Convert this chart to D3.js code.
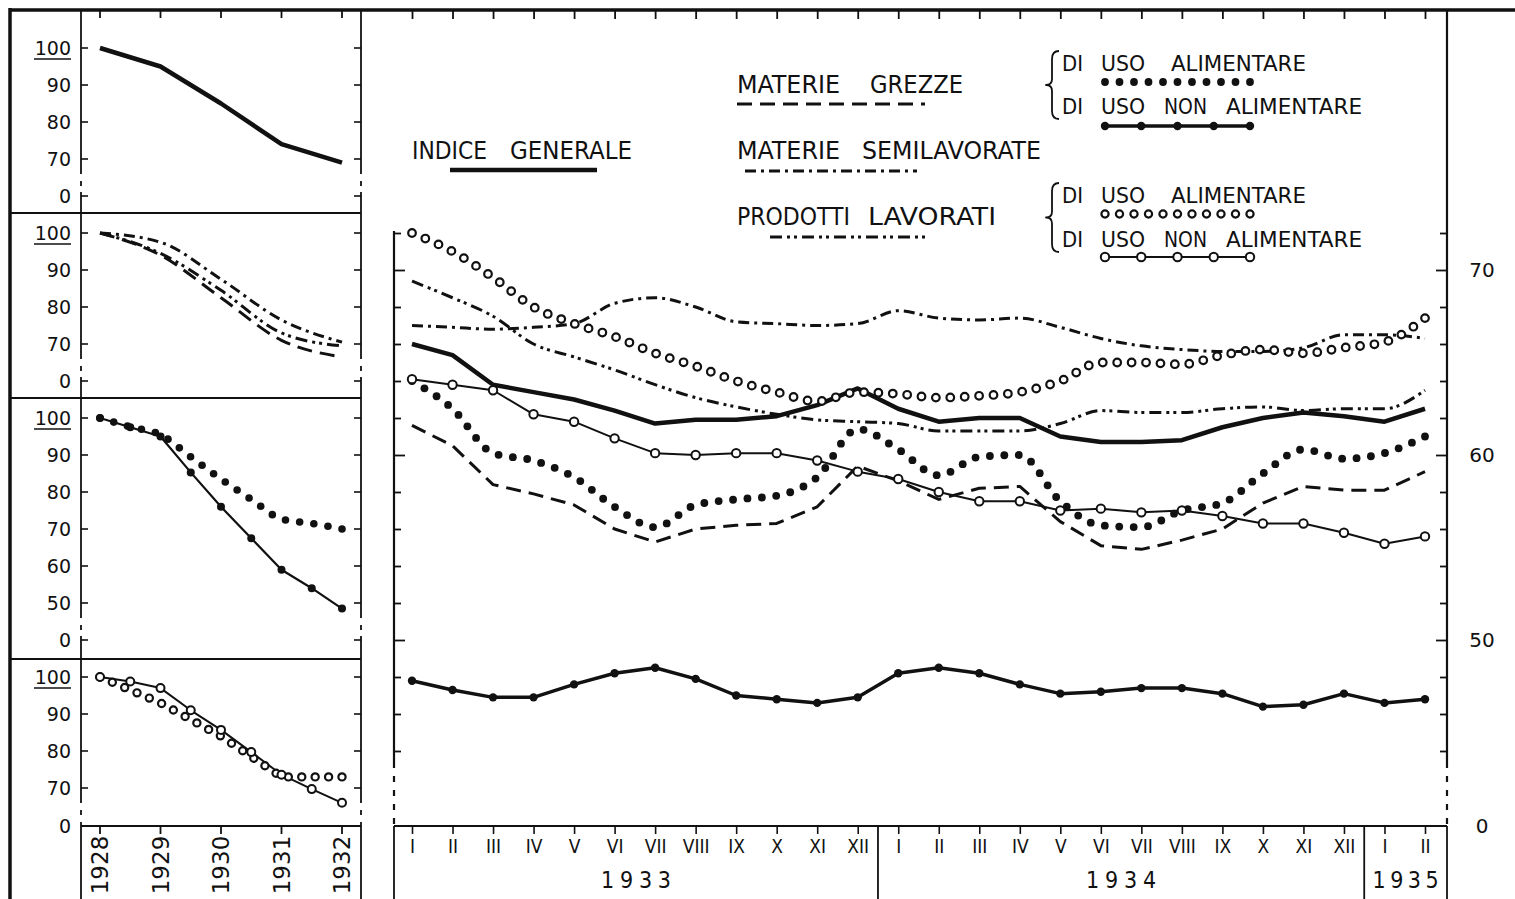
<!DOCTYPE html>
<html>
<head>
<meta charset="utf-8">
<script src="https://cdn.jsdelivr.net/npm/d3@7"></script>
<style>
  body { margin: 0; background: #fff; }
  svg { display: block; }
  text { fill: #111; }
  .num { font-family: "DejaVu Sans", sans-serif; font-size: 19px; }
  .cond { font-family: "DejaVu Sans Condensed", "Liberation Sans Narrow", sans-serif; }
</style>
</head>
<body>
<svg width="1515" height="899"></svg>
<script>
// ---------- data: main chart, monthly 1933 - II 1935 ----------
var monthLabels = ["I","II","III","IV","V","VI","VII","VIII","IX","X","XI","XII",
                   "I","II","III","IV","V","VI","VII","VIII","IX","X","XI","XII",
                   "I","II"];
var yearNames = ["1933", "1934", "1935"];
var yearMonths = [12, 12, 2];

var indiceGenerale  = [66.0, 65.4, 63.8, 63.4, 63.0, 62.4, 61.7, 61.9, 61.9, 62.1, 62.7, 63.6,
                       62.5, 61.8, 62.0, 62.0, 61.0, 60.7, 60.7, 60.8, 61.5, 62.0, 62.3, 62.1, 61.8, 62.5];
var grezzeAlim      = [64.0, 62.5, 60.1, 59.7, 58.8, 57.2, 56.1, 57.3, 57.6, 57.8, 58.8, 61.4,
                       60.3, 58.9, 59.9, 60.0, 57.5, 56.2, 56.1, 57.0, 57.4, 59.0, 60.3, 59.8, 60.1, 61.0];
var grezzeNonAlim   = [47.8, 47.3, 46.9, 46.9, 47.6, 48.2, 48.5, 47.9, 47.0, 46.8, 46.6, 46.9,
                       48.2, 48.5, 48.2, 47.6, 47.1, 47.2, 47.4, 47.4, 47.1, 46.4, 46.5, 47.1, 46.6, 46.8];
var grezze          = [61.6, 60.5, 58.4, 57.9, 57.3, 56.0, 55.3, 56.0, 56.2, 56.3, 57.2, 59.4,
                       58.6, 57.6, 58.2, 58.3, 56.4, 55.1, 54.9, 55.4, 56.0, 57.4, 58.3, 58.1, 58.1, 59.1];
var semilavorate    = [67.0, 66.9, 66.8, 66.9, 67.1, 68.2, 68.5, 68.0, 67.2, 67.1, 67.0, 67.1,
                       67.8, 67.4, 67.3, 67.4, 66.9, 66.3, 65.9, 65.7, 65.6, 65.6, 65.8, 66.5, 66.5, 66.3];
var lavorati        = [69.4, 68.5, 67.5, 66.0, 65.3, 64.6, 63.8, 63.1, 62.6, 62.2, 61.9, 61.8,
                       61.7, 61.3, 61.3, 61.3, 61.7, 62.4, 62.3, 62.3, 62.5, 62.6, 62.4, 62.5, 62.5, 63.5];
var lavoratiAlim    = [72.0, 71.0, 69.6, 68.0, 67.1, 66.4, 65.5, 64.8, 64.0, 63.4, 62.9, 63.4,
                       63.3, 63.1, 63.2, 63.4, 64.0, 65.0, 65.0, 64.9, 65.4, 65.7, 65.5, 65.8, 66.1, 67.4];
var lavoratiNonAlim = [64.1, 63.8, 63.5, 62.2, 61.8, 60.9, 60.1, 60.0, 60.1, 60.1, 59.7, 59.1,
                       58.7, 58.0, 57.5, 57.5, 57.0, 57.1, 56.9, 57.0, 56.7, 56.3, 56.3, 55.8, 55.2, 55.6];
var rightTicks = [70, 60, 50];

// ---------- data: left panels, 1928 = 100 ----------
var leftYears = [1928, 1929, 1930, 1931, 1932];
var leftHalfYears = [1928, 1928.5, 1929, 1929.5, 1930, 1930.5, 1931, 1931.5, 1932];
var p1Indice      = [100, 95, 85, 74, 69];
var p2Semilav     = [100, 97.5, 87.5, 76.5, 70.5];
var p2Lavorati    = [100, 94.5, 84.5, 73, 69.5];
var p2Grezze      = [100, 94, 82.5, 71, 66.5];
var p3GrezzeAlim  = [100, 97.6, 95.5, 89.5, 83.5, 78, 72.7, 71.5, 70];
var p3GrezzeNon   = [100, 97.5, 95, 85.3, 76, 67.5, 59, 54, 48.5];
var p4LavAlim     = [100, 93, 84, 73, 73];
var p4LavNon      = [100, 98.8, 97, 91, 85.7, 79.7, 73.6, 69.7, 66];

var ink = "#111";
var svg = d3.select("svg");

function seg(x1, y1, x2, y2, w, dash) {
  return svg.append("line")
    .attr("x1", x1).attr("y1", y1).attr("x2", x2).attr("y2", y2)
    .attr("stroke", ink).attr("stroke-width", w || 1.6)
    .attr("stroke-dasharray", dash || null);
}

// dots spread evenly along a path (dotted line styles)
function dotted(g, d, step, r, open) {
  var p = g.append("path").attr("d", d).attr("fill", "none");
  var L = p.node().getTotalLength();
  var n = Math.max(1, Math.round(L / step));
  var pts = d3.range(n + 1).map(function(k) { return p.node().getPointAtLength(L * k / n); });
  p.remove();
  g.selectAll(null).data(pts).enter().append("circle")
    .attr("cx", function(d) { return d.x; })
    .attr("cy", function(d) { return d.y; })
    .attr("r", r)
    .attr("fill", open ? "#fff" : ink)
    .attr("stroke", open ? ink : "none")
    .attr("stroke-width", open ? 2.2 : 0);
}

function stroked(g, d, w, dash) {
  g.append("path").attr("d", d).attr("fill", "none")
    .attr("stroke", ink).attr("stroke-width", w)
    .attr("stroke-linejoin", "round")
    .attr("stroke-dasharray", dash || null);
}

function markers(g, pts, r, open) {
  g.selectAll(null).data(pts).enter().append("circle")
    .attr("cx", function(d) { return d[0]; })
    .attr("cy", function(d) { return d[1]; })
    .attr("r", r)
    .attr("fill", open ? "#fff" : ink)
    .attr("stroke", ink).attr("stroke-width", open ? 2 : 0);
}

var DASH = "15,8", DASHDOT = "11,5,3,5", DASHDOTDOT = "12,5,3,4,3,5";

// ---------- frame ----------
seg(10, 10, 1515, 10, 3.5);
seg(10, 8, 10, 899, 3.5);

// ---------- left panels ----------
var lx = d3.scaleLinear().domain([1928, 1932]).range([100, 342]);
var panels = [
  {top: 10,  bottom: 213, y100: 48,  low: 70, zeroY: 196},
  {top: 213, bottom: 398, y100: 233, low: 70, zeroY: 381},
  {top: 398, bottom: 659, y100: 418, low: 50, zeroY: 640},
  {top: 659, bottom: 826, y100: 677, low: 70, zeroY: 826}
];
panels.forEach(function(p) {
  p.y = d3.scaleLinear().domain([p.low, 100]).range([p.y100 + (100 - p.low) * 3.7, p.y100]);
  var yl = p.y(p.low);
  [81, 361].forEach(function(ax) {
    seg(ax, p.top, ax, yl + 10, 1.8);
    seg(ax, yl + 10, ax, p.zeroY - 4, 1.8, "5,7");
    if (p.zeroY - 4 < p.bottom) seg(ax, p.zeroY - 4, ax, p.bottom, 1.8);
  });
  var vals = d3.range(p.low, 101, 10);
  var ag = svg.append("g");
  vals.forEach(function(v) {
    seg(81, p.y(v), 88, p.y(v), 1.6);
    seg(361, p.y(v), 354, p.y(v), 1.6);
    ag.append("text").attr("class", "num").attr("x", 71).attr("y", p.y(v) + 7)
      .attr("text-anchor", "end").text(v);
  });
  seg(81, p.zeroY, 88, p.zeroY, 1.6);
  seg(361, p.zeroY, 354, p.zeroY, 1.6);
  ag.append("text").attr("class", "num").attr("x", 71).attr("y", p.zeroY + 7)
    .attr("text-anchor", "end").text("0");
  seg(34, p.y(100) + 11, 71, p.y(100) + 11, 1.6);
});
[213, 398, 659].forEach(function(yy) { seg(10, yy, 361, yy, 1.8); });
seg(81, 826, 361, 826, 2);
seg(81, 826, 81, 899, 1.8);
seg(361, 826, 361, 899, 1.8);
leftYears.forEach(function(yr) {
  seg(lx(yr), 10, lx(yr), 18, 1.8);
  seg(lx(yr), 826, lx(yr), 834, 1.8);
  svg.append("text").attr("class", "num").style("font-size", "23px")
    .attr("text-anchor", "middle")
    .attr("transform", "translate(" + (lx(yr) + 8) + ",865) rotate(-90)")
    .text(yr);
});

var P = panels;
var g1 = svg.append("g");
var lineY = function(xs, sc) {
  return d3.line().x(function(d, i) { return lx(xs[i]); }).y(function(d) { return sc(d); });
};
stroked(g1, lineY(leftYears, P[0].y)(p1Indice), 4.5);

var g2 = svg.append("g");
stroked(g2, lineY(leftYears, P[1].y).curve(d3.curveMonotoneX)(p2Semilav), 3, DASHDOT);
stroked(g2, lineY(leftYears, P[1].y).curve(d3.curveMonotoneX)(p2Lavorati), 3, DASHDOTDOT);
stroked(g2, lineY(leftYears, P[1].y).curve(d3.curveMonotoneX)(p2Grezze), 3, DASH);

var g3 = svg.append("g");
stroked(g3, lineY(leftHalfYears, P[2].y)(p3GrezzeNon), 2.2);
dotted(g3, lineY(leftHalfYears, P[2].y).curve(d3.curveMonotoneX)(p3GrezzeAlim), 14.5, 3.8, false);
markers(g3, p3GrezzeNon.map(function(v, i) { return [lx(leftHalfYears[i]), P[2].y(v)]; }), 4, false);

var g4 = svg.append("g");
stroked(g4, lineY(leftHalfYears, P[3].y)(p4LavNon), 2);
dotted(g4, lineY(leftYears, P[3].y)(p4LavAlim), 13.5, 3.6, true);
markers(g4, p4LavNon.map(function(v, i) { return [lx(leftHalfYears[i]), P[3].y(v)]; }), 4, true);

// ---------- main chart ----------
var n = monthLabels.length;
var x = d3.scaleLinear().domain([0, n - 1]).range([412, 1425]);
var y = d3.scaleLinear().domain([44, 72]).range([751, 233]);
var L = 394, R = 1447, B = 826;

// axes lines
seg(L, 231, L, 762, 2.2);
seg(L, 762, L, B, 2.2, "6,8");
seg(R, 10, R, 762, 2.2);
seg(R, 762, R, B, 2.2, "6,8");
seg(L, B, R, B, 2.2);
seg(L, B, L, 899, 1.8);
seg(R, B, R, 899, 1.8);

var leftAx = svg.append("g").attr("transform", "translate(" + L + ",0)")
  .call(d3.axisRight(y).tickValues(d3.range(44, 73, 2)).tickSize(7).tickFormat(""));
var rightAx = svg.append("g").attr("transform", "translate(" + R + ",0)")
  .call(d3.axisLeft(y).tickValues(d3.range(44, 73, 2)).tickSize(7).tickFormat(""));
[leftAx, rightAx].forEach(function(a, k) {
  a.select(".domain").remove();
  a.selectAll(".tick line").attr("stroke", ink).attr("stroke-width", 1.8)
    .attr("x2", function(d) { return (d % 10 === 0 ? 11 : 7) * (k ? -1 : 1); });
});
seg(L, B, L + 7, B, 1.8);
seg(R, B, R - 7, B, 1.8);
rightTicks.forEach(function(v) {
  svg.append("text").attr("class", "num").style("font-size", "20px")
    .attr("x", 1482).attr("y", y(v) + 7).attr("text-anchor", "middle").text(v);
});
svg.append("text").attr("class", "num").style("font-size", "20px")
  .attr("x", 1482).attr("y", B + 7).attr("text-anchor", "middle").text("0");

// top month ticks
var topAx = svg.append("g").attr("transform", "translate(0,10)")
  .call(d3.axisBottom(x).tickValues(d3.range(n)).tickSize(9).tickFormat(""));
topAx.select(".domain").remove();
topAx.selectAll(".tick line").attr("stroke", ink).attr("stroke-width", 1.8);

// bottom month axis
var botAx = svg.append("g").attr("transform", "translate(0," + B + ")")
  .call(d3.axisBottom(x).tickValues(d3.range(n)).tickSize(8).tickPadding(6)
    .tickFormat(function(i) { return monthLabels[i]; }));
botAx.select(".domain").remove();
botAx.selectAll(".tick line").attr("stroke", ink).attr("stroke-width", 1.6);
botAx.selectAll(".tick text").attr("class", "cond").style("font-size", "19px").attr("fill", ink);

// year boxes
var acc = 0;
yearNames.forEach(function(name, k) {
  var i0 = acc, i1 = acc + yearMonths[k] - 1;
  acc += yearMonths[k];
  var xa = i0 === 0 ? L : (x(i0) + x(i0 - 1)) / 2;
  var xb = acc >= n ? R : (x(i1) + x(i1 + 1)) / 2;
  if (acc < n) seg(xb, B, xb, 899, 1.8);
  var wide = yearMonths[k] > 4;
  svg.append("text").attr("class", "cond").style("font-size", "23px")
    .attr("x", (xa + xb) / 2 - (wide ? 35 : 33)).attr("y", 888)
    .attr("textLength", wide ? 70 : 66).attr("lengthAdjust", "spacing")
    .text(name);
});

// series
var gm = svg.append("g");
var lin = d3.line().x(function(d, i) { return x(i); }).y(function(d) { return y(d); });
var smo = d3.line().x(function(d, i) { return x(i); }).y(function(d) { return y(d); }).curve(d3.curveMonotoneX);

stroked(gm, smo(semilavorate), 3, DASHDOT);
stroked(gm, smo(lavorati), 3, DASHDOTDOT);
stroked(gm, lin(grezze), 3, DASH);
stroked(gm, lin(indiceGenerale), 4.5);
stroked(gm, lin(lavoratiNonAlim), 2);
stroked(gm, lin(grezzeNonAlim), 3.5);
dotted(gm, smo(grezzeAlim), 14.5, 3.9, false);
dotted(gm, smo(lavoratiAlim), 14.5, 3.8, true);
markers(gm, lavoratiNonAlim.map(function(v, i) { return [x(i), y(v)]; }), 4.2, true);
markers(gm, grezzeNonAlim.map(function(v, i) { return [x(i), y(v)]; }), 4.2, false);

// ---------- legend ----------
var lg = svg.append("g");
function words(list, yb, size) {
  list.forEach(function(w) {
    lg.append("text").attr("class", "cond").style("font-size", size + "px")
      .attr("x", w[1]).attr("y", yb)
      .attr("textLength", w[2] - w[1]).attr("lengthAdjust", "spacingAndGlyphs")
      .text(w[0]);
  });
}
var hl = function(x1, x2, yy) { return "M" + x1 + "," + yy + "L" + x2 + "," + yy; };

words([["MATERIE", 737, 840], ["GREZZE", 870, 963]], 93, 24);
stroked(lg, hl(737, 925, 104), 3, DASH);
words([["INDICE", 412, 487], ["GENERALE", 510, 632]], 159, 24);
stroked(lg, hl(450, 597, 170), 4.5);
words([["MATERIE", 737, 840], ["SEMILAVORATE", 862, 1041]], 159, 24);
stroked(lg, hl(745, 917, 171), 3, DASHDOT);
words([["PRODOTTI", 737, 850], ["LAVORATI", 868, 996]], 225, 24);
stroked(lg, hl(770, 925, 237), 3, DASHDOTDOT);

function brace(x0, y1, y2) {
  var cy = (y1 + y2) / 2;
  stroked(lg, "M" + (x0 + 7) + "," + y1 + "Q" + x0 + "," + y1 + " " + x0 + "," + (y1 + 8) +
    "L" + x0 + "," + (cy - 6) + "Q" + x0 + "," + cy + " " + (x0 - 6) + "," + cy +
    "Q" + x0 + "," + cy + " " + x0 + "," + (cy + 6) +
    "L" + x0 + "," + (y2 - 8) + "Q" + x0 + "," + y2 + " " + (x0 + 7) + "," + y2, 1.8);
}
brace(1052, 51, 119);
brace(1052, 183, 252);

words([["DI", 1062, 1083], ["USO", 1101, 1145], ["ALIMENTARE", 1171, 1306]], 71, 22);
dotted(lg, hl(1105, 1250, 82), 14.5, 3.9, false);
words([["DI", 1062, 1083], ["USO", 1101, 1145], ["NON", 1164, 1207], ["ALIMENTARE", 1226, 1362]], 114, 22);
stroked(lg, hl(1103, 1252, 126), 3.5);
markers(lg, d3.range(5).map(function(k) { return [1105 + k * 36.25, 126]; }), 4.2, false);

words([["DI", 1062, 1083], ["USO", 1101, 1145], ["ALIMENTARE", 1171, 1306]], 203, 22);
dotted(lg, hl(1105, 1250, 214), 14.5, 3.6, true);
words([["DI", 1062, 1083], ["USO", 1101, 1145], ["NON", 1164, 1207], ["ALIMENTARE", 1226, 1362]], 247, 22);
stroked(lg, hl(1103, 1252, 257), 2);
markers(lg, d3.range(5).map(function(k) { return [1105 + k * 36.25, 257]; }), 4.2, true);
</script>
</body>
</html>
